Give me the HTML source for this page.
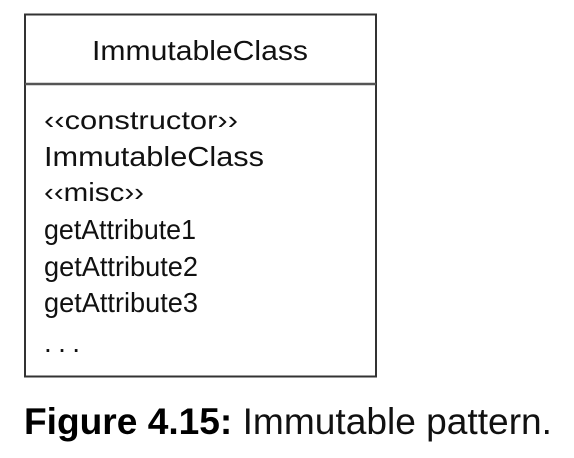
<!DOCTYPE html>
<html><head><meta charset="utf-8"><style>
html,body{margin:0;padding:0;background:#fff;}
svg{display:block;}
text{font-family:"Liberation Sans",Arial,sans-serif;fill:#111;}
</style></head><body>
<svg width="574" height="458" viewBox="0 0 574 458" xmlns="http://www.w3.org/2000/svg">
<rect x="25" y="14.5" width="351" height="362" fill="#fff" stroke="#333" stroke-width="2"/>
<line x1="25" y1="84" x2="376" y2="84" stroke="#555" stroke-width="2.5"/>
<text x="200" y="60" font-size="28" text-anchor="middle" textLength="216" lengthAdjust="spacingAndGlyphs">ImmutableClass</text>
<text x="44" y="129" font-size="26" textLength="194" lengthAdjust="spacingAndGlyphs">‹‹constructor››</text>
<text x="44" y="166" font-size="28" textLength="220" lengthAdjust="spacingAndGlyphs">ImmutableClass</text>
<text x="44" y="201" font-size="26" textLength="100" lengthAdjust="spacingAndGlyphs">‹‹misc››</text>
<text x="44" y="239" font-size="28" textLength="152" lengthAdjust="spacingAndGlyphs">getAttribute1</text>
<text x="44" y="276" font-size="28" textLength="154" lengthAdjust="spacingAndGlyphs">getAttribute2</text>
<text x="44" y="312" font-size="28" textLength="154" lengthAdjust="spacingAndGlyphs">getAttribute3</text>
<text x="44" y="352" font-size="28" textLength="36" lengthAdjust="spacing">. . .</text>
<text x="24" y="434" font-size="37" textLength="528" lengthAdjust="spacingAndGlyphs"><tspan font-weight="bold" fill="#000">Figure 4.15:</tspan> Immutable pattern.</text>
</svg>
</body></html>
